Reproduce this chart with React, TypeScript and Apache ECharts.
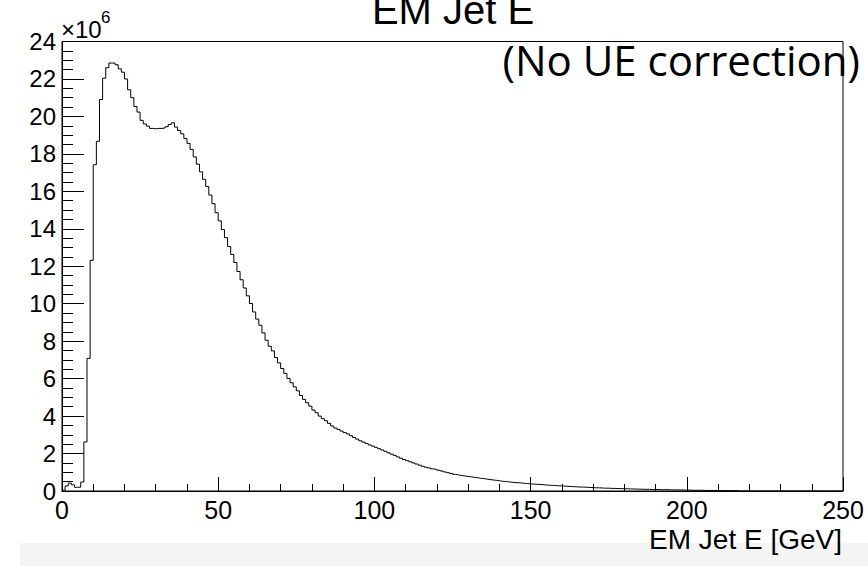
import { useEffect, useRef } from "react";
import * as echarts from "echarts";

// Histogram of EM jet energy: 250 bins of 1 GeV from 0 to 250 GeV.
// Bin contents are in units of 10^6 entries.
const binsA = [
  0.05, 0.27, 0.42, 0.33, 0.2, 0.2, 0.48, 2.62, 7.08, 12.32,
  17.42, 18.67, 20.9, 22.04, 22.6, 22.85, 22.85, 22.76, 22.54, 22.36,
  22.0, 21.42, 21.0, 20.53, 20.23, 19.79, 19.6, 19.48, 19.36, 19.34,
  19.36, 19.36, 19.38, 19.45, 19.57, 19.66, 19.43, 19.25, 19.07, 18.82,
  18.56, 18.24, 17.84, 17.45, 17.04, 16.64, 16.26, 15.8, 15.34, 14.86,
];
const binsB = [
  14.42, 13.96, 13.53, 13.05, 12.63, 12.2, 11.72, 11.28, 10.84, 10.42,
  10.01, 9.56, 9.18, 8.85, 8.44, 8.05, 7.73, 7.48, 7.13, 6.84,
  6.54, 6.28, 6.01, 5.78, 5.56, 5.35, 5.1, 4.89, 4.71, 4.53,
  4.32, 4.18, 4.0, 3.86, 3.75, 3.61, 3.47, 3.36, 3.29, 3.2,
  3.12, 3.05, 2.95, 2.86, 2.77, 2.68, 2.61, 2.54, 2.46, 2.4,
];
const binsC = [
  2.33, 2.26, 2.19, 2.12, 2.04, 1.97, 1.9, 1.82, 1.75, 1.68,
  1.62, 1.56, 1.5, 1.44, 1.38, 1.32, 1.27, 1.23, 1.18, 1.15,
  1.11, 1.07, 1.02, 0.98, 0.94, 0.89, 0.86, 0.83, 0.8, 0.78,
  0.76, 0.73, 0.71, 0.68, 0.66, 0.64, 0.61, 0.59, 0.57, 0.55,
  0.52, 0.51, 0.49, 0.47, 0.45, 0.44, 0.43, 0.41, 0.4, 0.38,
];
const binsD = [
  0.37, 0.36, 0.35, 0.34, 0.32, 0.31, 0.3, 0.29, 0.28, 0.27,
  0.26, 0.25, 0.24, 0.23, 0.22, 0.21, 0.21, 0.2, 0.19, 0.18,
  0.17, 0.17, 0.16, 0.15, 0.15, 0.14, 0.14, 0.13, 0.13, 0.12,
  0.12, 0.11, 0.11, 0.1, 0.1, 0.09, 0.09, 0.09, 0.08, 0.08,
  0.08, 0.07, 0.07, 0.07, 0.06, 0.06, 0.06, 0.06, 0.05, 0.05,
];
const binsE = [
  0.05, 0.04, 0.04, 0.04, 0.04, 0.03, 0.03, 0.03, 0.03, 0.03,
  0.02, 0.02, 0.02, 0.02, 0.02, 0.02, 0, 0, 0, 0,
  0, 0, 0, 0, 0, 0, 0, 0, 0, 0,
  0, 0, 0, 0, 0, 0, 0, 0, 0, 0,
  0, 0, 0, 0, 0, 0, 0, 0, 0, 0,
];

const X_MIN = 0;
const X_MAX = 250;
const X_STEP = 50;
const BIN_WIDTH = 1;
const Y_MIN = 0;
const Y_MAX = 24;
const Y_STEP = 2;

const TITLE = "EM Jet E";
const X_TITLE = "EM Jet E [GeV]";
const NOTE = "(No UE correction)";

const SANS = "'Liberation Sans', Arial, Helvetica, sans-serif";

export default function App() {
  const ref = useRef<HTMLDivElement>(null);

  useEffect(() => {
    if (!ref.current) return;
    const chart = echarts.init(ref.current, null, { renderer: "svg" });

    const counts = [...binsA, ...binsB, ...binsC, ...binsD, ...binsE];
    // Left bin edges with their contents; a final point closes the last bin.
    const points = counts.map((v, i) => [X_MIN + i * BIN_WIDTH, v]);
    points.push([X_MIN + counts.length * BIN_WIDTH, counts[counts.length - 1]]);

    chart.setOption({
      animation: false,
      backgroundColor: "#ffffff",
      grid: {
        left: 62,
        top: 41.5,
        right: 25,
        bottom: 75,
        show: true,
        borderColor: "#000",
        borderWidth: 1,
        backgroundColor: "transparent",
      },
      xAxis: {
        type: "value",
        min: X_MIN,
        max: X_MAX,
        interval: X_STEP,
        axisLine: { show: true, lineStyle: { color: "#000", width: 1 } },
        axisTick: { show: true, inside: true, length: 14, lineStyle: { color: "#000", width: 1 } },
        minorTick: { show: true, splitNumber: 5, length: 7, lineStyle: { color: "#000", width: 1 } },
        splitLine: { show: false },
        axisLabel: { color: "#000", fontSize: 25, fontFamily: SANS, margin: 6 },
      },
      yAxis: {
        type: "value",
        min: Y_MIN,
        max: Y_MAX,
        interval: Y_STEP,
        axisLine: { show: true, lineStyle: { color: "#000", width: 1 } },
        axisTick: { show: true, inside: true, length: 22, lineStyle: { color: "#000", width: 1 } },
        minorTick: { show: true, splitNumber: 4, length: 11, lineStyle: { color: "#000", width: 1 } },
        splitLine: { show: false },
        axisLabel: { color: "#000", fontSize: 24, fontFamily: SANS, margin: 6 },
      },
      series: [
        {
          type: "line",
          step: "end",
          data: points,
          symbol: "none",
          clip: true,
          lineStyle: { color: "#000", width: 1 },
          z: 3,
        },
      ],
      graphic: [
        {
          type: "rect",
          z: -1,
          shape: { x: 20, y: 543, width: 848, height: 23 },
          style: { fill: "#f4f4f4" },
        },
        {
          type: "text",
          x: 453,
          y: 10,
          style: {
            text: TITLE,
            fontSize: 40,
            fontFamily: SANS,
            fill: "#000",
            align: "center",
            verticalAlign: "middle",
          },
        },
        {
          type: "text",
          x: 842,
          y: 539,
          style: {
            text: X_TITLE,
            fontSize: 28,
            fontFamily: SANS,
            fill: "#000",
            align: "right",
            verticalAlign: "middle",
          },
        },
        {
          type: "text",
          x: 61,
          y: 29,
          style: {
            text: "×10",
            fontSize: 24,
            fontFamily: SANS,
            fill: "#000",
            align: "left",
            verticalAlign: "middle",
          },
        },
        {
          type: "text",
          x: 101,
          y: 17,
          style: {
            text: "6",
            fontSize: 17,
            fontFamily: SANS,
            fill: "#000",
            align: "left",
            verticalAlign: "middle",
          },
        },
        {
          type: "text",
          x: 860,
          y: 59,
          style: {
            text: NOTE,
            fontSize: 42,
            fontFamily: "'Open Sans', 'Noto Sans', sans-serif",
            fill: "#000",
            align: "right",
            verticalAlign: "middle",
          },
        },
      ],
    });

    return () => chart.dispose();
  }, []);

  return (
    <div
      ref={ref}
      style={{ position: "fixed", left: 0, top: 0, width: 868, height: 566, background: "#fff" }}
    />
  );
}
